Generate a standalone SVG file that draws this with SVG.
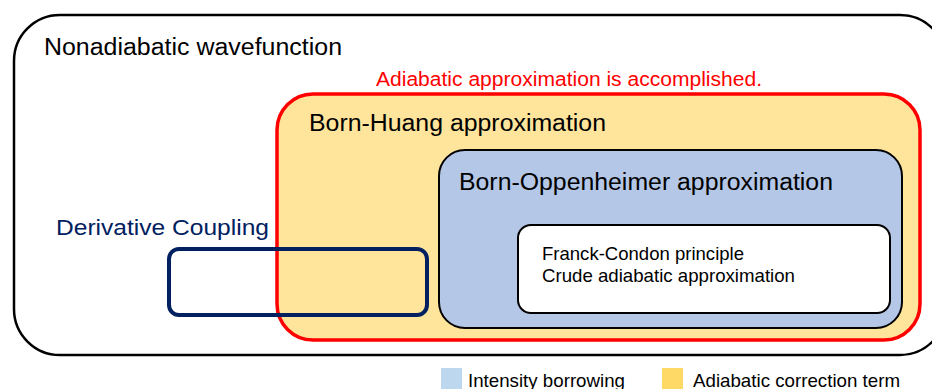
<svg xmlns="http://www.w3.org/2000/svg" width="932" height="389" viewBox="0 0 932 389">
<style>
text{font-family:"Liberation Sans",Arial,sans-serif;}
.big{font-size:23px;fill:#000;}
.sm{font-size:18.5px;fill:#000;}
.leg{font-size:19px;fill:#000;}
</style>
<rect width="932" height="389" fill="#fff"/>
<g id="nonadiabatic">
<rect x="14" y="15" width="932" height="340" rx="46" ry="46" fill="#fff" stroke="#000" stroke-width="2.5"/>
<text class="big" x="44" y="55" font-size="24" textLength="298" lengthAdjust="spacingAndGlyphs">Nonadiabatic  wavefunction</text>
</g>
<g id="born-huang">
<rect x="277" y="94" width="643" height="246" rx="36" ry="36" fill="#FEE59B" stroke="#FF0000" stroke-width="3.5"/>
<text x="376" y="86" font-size="20" fill="#FF0000" textLength="386" lengthAdjust="spacingAndGlyphs">Adiabatic approximation is accomplished.</text>
<text class="big" x="309" y="131" textLength="297" lengthAdjust="spacingAndGlyphs">Born-Huang approximation</text>
</g>
<g id="born-oppenheimer">
<rect x="439" y="150" width="463" height="178" rx="26" ry="26" fill="#B4C7E7" stroke="#000" stroke-width="2"/>
<text class="big" x="459" y="190" textLength="374" lengthAdjust="spacingAndGlyphs">Born-Oppenheimer approximation</text>
</g>
<g id="franck-condon">
<rect x="518" y="225" width="372" height="88" rx="13" ry="13" fill="#fff" stroke="#000" stroke-width="2"/>
<text class="sm" x="542" y="260" textLength="202" lengthAdjust="spacingAndGlyphs">Franck-Condon principle</text>
<text class="sm" x="542" y="282" textLength="253" lengthAdjust="spacingAndGlyphs">Crude adiabatic approximation</text>
</g>
<g id="derivative-coupling">
<rect x="169" y="249" width="258" height="66" rx="10" ry="10" fill="none" stroke="#002060" stroke-width="4"/>
<text x="56" y="235" font-size="22" fill="#002060" textLength="213" lengthAdjust="spacingAndGlyphs">Derivative  Coupling</text>
</g>
<g id="legend">
<rect x="441" y="368" width="21" height="21" fill="#BDD7EE"/>
<text class="leg" x="468" y="387" textLength="157" lengthAdjust="spacingAndGlyphs">Intensity borrowing</text>
<rect x="662" y="368" width="21" height="21" fill="#FFD966"/>
<text class="leg" x="693" y="387" textLength="207" lengthAdjust="spacingAndGlyphs">Adiabatic correction term</text>
</g>
<g id="connectors"></g>
</svg>
